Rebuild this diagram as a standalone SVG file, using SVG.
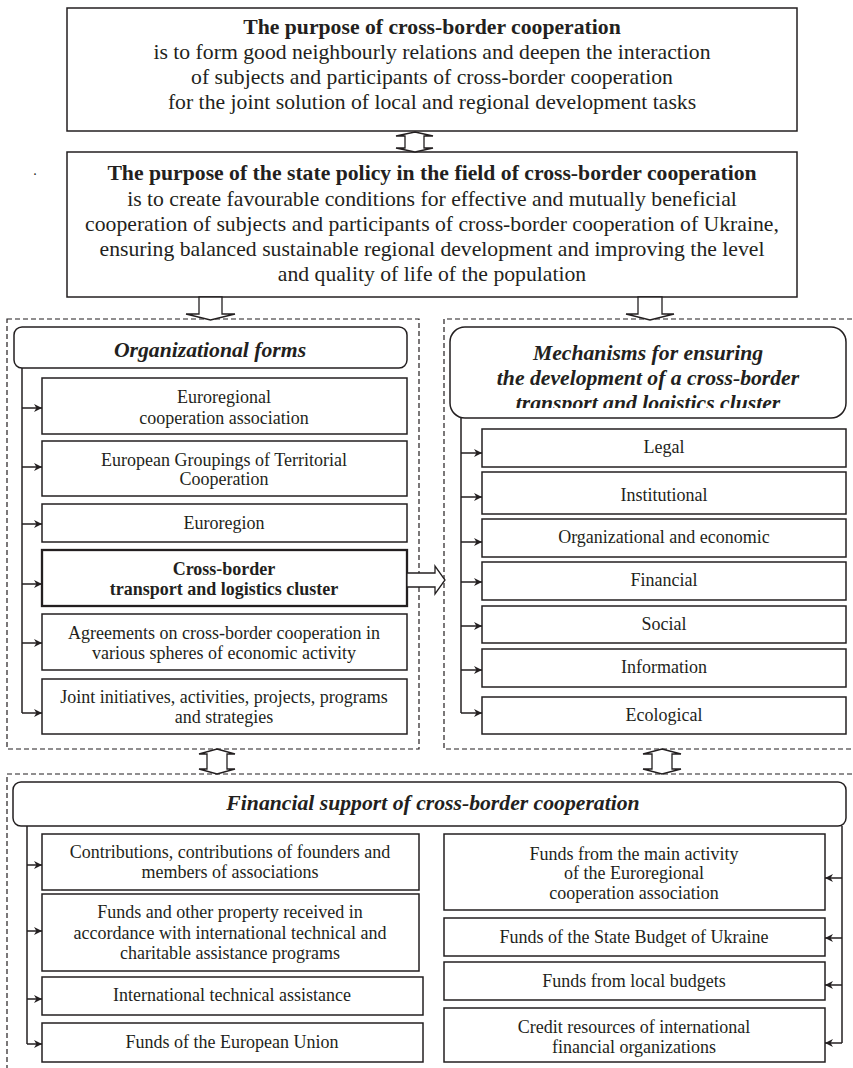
<svg xmlns="http://www.w3.org/2000/svg" width="853" height="1068" viewBox="0 0 853 1068">
<style>
  .box { fill: #fff; stroke: #231f20; stroke-width: 1.5; }
  .thick { stroke-width: 2.3; }
  .frame { fill: none; stroke: #231f20; stroke-width: 1.2; stroke-dasharray: 5 3; }
  .blk { fill: #fff; stroke: #231f20; stroke-width: 1.3; stroke-linejoin: miter; }
  .ln { fill: none; stroke: #231f20; stroke-width: 1.5; }
  text { font-family: "Liberation Serif", "Times New Roman", serif; fill: #231f20; text-anchor: middle; }
  .big { font-size: 21.7px; }
  .b { font-weight: bold; }
  .bi { font-weight: bold; font-style: italic; font-size: 21.7px; }
  .sm { font-size: 18px; }
</style>
<defs>
  <marker id="ah" viewBox="0 0 10 10" refX="10" refY="5" markerWidth="9" markerHeight="8" markerUnits="userSpaceOnUse" orient="auto">
    <path d="M0,0 L10,5 L0,10 L3,5 z" fill="#231f20"/>
  </marker>
  <clipPath id="mechClip"><rect x="450" y="327" width="396" height="81"/></clipPath>
</defs>

<!-- dashed group frames -->
<g id="frames">
  <rect class="frame" x="7" y="319" width="412" height="430"/>
  <path class="frame" d="M860,319 H444 V749 H860"/>
  <path class="frame" d="M860,774 H7 V1075"/>
</g>

<!-- top goal -->
<g id="goal">
  <rect class="box" x="67" y="8" width="730" height="123"/>
  <text class="big b" x="432" y="34">The purpose of cross-border cooperation</text>
  <text class="big" x="432" y="59">is to form good neighbourly relations and deepen the interaction</text>
  <text class="big" x="432" y="84">of subjects and participants of cross-border cooperation</text>
  <text class="big" x="432" y="109">for the joint solution of local and regional development tasks</text>
</g>

<g id="policy">
  <rect class="box" x="67" y="152" width="730" height="145"/>
  <text class="big b" x="432" y="180">The purpose of the state policy in the field of cross-border cooperation</text>
  <text class="big" x="432" y="206">is to create favourable conditions for effective and mutually beneficial</text>
  <text class="big" x="432" y="231">cooperation of subjects and participants of cross-border cooperation of Ukraine,</text>
  <text class="big" x="432" y="256">ensuring balanced sustainable regional development and improving the level</text>
  <text class="big" x="432" y="281">and quality of life of the population</text>
</g>
<text x="35" y="175" style="font-size:14px">.</text>

<!-- organizational forms -->
<g id="org-forms">
  <rect class="box" x="14" y="327" width="393" height="41" rx="8"/>
  <text class="bi" x="210" y="357">Organizational forms</text>
</g>
<g id="org-1">
  <rect class="box" x="42" y="378" width="365" height="56"/>
  <text class="sm" x="224" y="403">Euroregional</text>
  <text class="sm" x="224" y="424">cooperation association</text>
</g>
<g id="org-2">
  <rect class="box" x="42" y="441" width="365" height="55"/>
  <text class="sm" x="224" y="466">European Groupings of Territorial</text>
  <text class="sm" x="224" y="485">Cooperation</text>
</g>
<g id="org-3">
  <rect class="box" x="42" y="504" width="365" height="38"/>
  <text class="sm" x="224" y="529">Euroregion</text>
</g>
<g id="org-4">
  <rect class="box thick" x="42" y="550" width="365" height="56"/>
  <text class="sm b" x="224" y="575">Cross-border</text>
  <text class="sm b" x="224" y="595">transport and logistics cluster</text>
</g>
<g id="org-5">
  <rect class="box" x="42" y="614" width="365" height="56"/>
  <text class="sm" x="224" y="639">Agreements on cross-border cooperation in</text>
  <text class="sm" x="224" y="659">various spheres of economic activity</text>
</g>
<g id="org-6">
  <rect class="box" x="42" y="679" width="365" height="55"/>
  <text class="sm" x="224" y="703">Joint initiatives, activities, projects, programs</text>
  <text class="sm" x="224" y="723">and strategies</text>
</g>

<!-- mechanisms -->
<g id="mechanisms">
  <rect class="box" x="450" y="327" width="396" height="91" rx="15"/>
  <g clip-path="url(#mechClip)">
    <text class="bi" x="648" y="360">Mechanisms for ensuring</text>
    <text class="bi" x="648" y="385">the development of a cross-border</text>
    <text class="bi" x="648" y="410">transport and logistics cluster</text>
  </g>
</g>
<g id="mech-1"><rect class="box" x="482" y="429" width="364" height="38"/><text class="sm" x="664" y="453">Legal</text></g>
<g id="mech-2"><rect class="box" x="482" y="472" width="364" height="42"/><text class="sm" x="664" y="501">Institutional</text></g>
<g id="mech-3"><rect class="box" x="482" y="519" width="364" height="38"/><text class="sm" x="664" y="543">Organizational and economic</text></g>
<g id="mech-4"><rect class="box" x="482" y="562" width="364" height="38"/><text class="sm" x="664" y="586">Financial</text></g>
<g id="mech-5"><rect class="box" x="482" y="606" width="364" height="37"/><text class="sm" x="664" y="630">Social</text></g>
<g id="mech-6"><rect class="box" x="482" y="649" width="364" height="38"/><text class="sm" x="664" y="673">Information</text></g>
<g id="mech-7"><rect class="box" x="482" y="697" width="364" height="37"/><text class="sm" x="664" y="721">Ecological</text></g>

<!-- financial support -->
<g id="finance">
  <rect class="box" x="13" y="782" width="833" height="44" rx="8"/>
  <text class="bi" x="433" y="810">Financial support of cross-border cooperation</text>
</g>
<g id="fin-l1">
  <rect class="box" x="42" y="834" width="377" height="56"/>
  <text class="sm" x="230" y="858">Contributions, contributions of founders and</text>
  <text class="sm" x="230" y="878">members of associations</text>
</g>
<g id="fin-l2">
  <rect class="box" x="42" y="894" width="377" height="77"/>
  <text class="sm" x="230" y="918">Funds and other property received in</text>
  <text class="sm" x="230" y="939">accordance with international technical and</text>
  <text class="sm" x="230" y="959">charitable assistance programs</text>
</g>
<g id="fin-l3">
  <rect class="box" x="42" y="977" width="381" height="38"/>
  <text class="sm" x="232" y="1001">International technical assistance</text>
</g>
<g id="fin-l4">
  <rect class="box" x="42" y="1023" width="381" height="39"/>
  <text class="sm" x="232" y="1048">Funds of the European Union</text>
</g>
<g id="fin-r1">
  <rect class="box" x="444" y="834" width="381" height="76"/>
  <text class="sm" x="634" y="860">Funds from the main activity</text>
  <text class="sm" x="634" y="879">of the Euroregional</text>
  <text class="sm" x="634" y="899">cooperation association</text>
</g>
<g id="fin-r2">
  <rect class="box" x="444" y="918" width="381" height="38"/>
  <text class="sm" x="634" y="943">Funds of the State Budget of Ukraine</text>
</g>
<g id="fin-r3">
  <rect class="box" x="444" y="962" width="381" height="38"/>
  <text class="sm" x="634" y="987">Funds from local budgets</text>
</g>
<g id="fin-r4">
  <rect class="box" x="444" y="1008" width="381" height="54"/>
  <text class="sm" x="634" y="1033">Credit resources of international</text>
  <text class="sm" x="634" y="1053">financial organizations</text>
</g>

<!-- connectors -->
<g id="connectors">
  <!-- two-way block arrows -->
  <polygon class="blk" points="415,132 433,136 424,136 424,148 433,148 415,152 396,148 405,148 405,136 396,136"/>
  <polygon class="blk" points="217,749 235,754 227,754 227,769 235,769 217,774 199,769 207,769 207,754 199,754"/>
  <polygon class="blk" points="662,749 681,754 672,754 672,769 681,769 662,774 643,769 652,769 652,754 643,754"/>
  <!-- one-way block arrows -->
  <polygon class="blk" points="199,297 222,297 222,314 235,314 210.5,320 186,314 199,314"/>
  <polygon class="blk" points="638,297 662,297 662,314 674,314 650,320 626,314 638,314"/>
  <polygon class="blk" points="407,573 435,573 435,566 445,580 435,594 435,587 407,587"/>

  <!-- organizational forms branches -->
  <path class="ln" d="M22,368 V713"/>
  <line class="ln" x1="22" y1="408" x2="42" y2="408" marker-end="url(#ah)"/>
  <line class="ln" x1="22" y1="467" x2="42" y2="467" marker-end="url(#ah)"/>
  <line class="ln" x1="22" y1="524" x2="42" y2="524" marker-end="url(#ah)"/>
  <line class="ln" x1="22" y1="584" x2="42" y2="584" marker-end="url(#ah)"/>
  <line class="ln" x1="22" y1="643" x2="42" y2="643" marker-end="url(#ah)"/>
  <line class="ln" x1="22" y1="713" x2="42" y2="713" marker-end="url(#ah)"/>

  <!-- mechanisms branches -->
  <path class="ln" d="M461,418 V713"/>
  <line class="ln" x1="461" y1="453" x2="482" y2="453" marker-end="url(#ah)"/>
  <line class="ln" x1="461" y1="497" x2="482" y2="497" marker-end="url(#ah)"/>
  <line class="ln" x1="461" y1="542" x2="482" y2="542" marker-end="url(#ah)"/>
  <line class="ln" x1="461" y1="582" x2="482" y2="582" marker-end="url(#ah)"/>
  <line class="ln" x1="461" y1="626" x2="482" y2="626" marker-end="url(#ah)"/>
  <line class="ln" x1="461" y1="670" x2="482" y2="670" marker-end="url(#ah)"/>
  <line class="ln" x1="461" y1="713" x2="482" y2="713" marker-end="url(#ah)"/>

  <!-- financial support branches, left -->
  <path class="ln" d="M27,826 V1044"/>
  <line class="ln" x1="27" y1="865" x2="42" y2="865" marker-end="url(#ah)"/>
  <line class="ln" x1="27" y1="931" x2="42" y2="931" marker-end="url(#ah)"/>
  <line class="ln" x1="27" y1="999" x2="42" y2="999" marker-end="url(#ah)"/>
  <line class="ln" x1="27" y1="1044" x2="42" y2="1044" marker-end="url(#ah)"/>

  <!-- financial support branches, right -->
  <path class="ln" d="M842,826 V1043"/>
  <line class="ln" x1="842" y1="878" x2="825" y2="878" marker-end="url(#ah)"/>
  <line class="ln" x1="842" y1="938" x2="825" y2="938" marker-end="url(#ah)"/>
  <line class="ln" x1="842" y1="985" x2="825" y2="985" marker-end="url(#ah)"/>
  <line class="ln" x1="842" y1="1043" x2="825" y2="1043" marker-end="url(#ah)"/>
</g>
</svg>
